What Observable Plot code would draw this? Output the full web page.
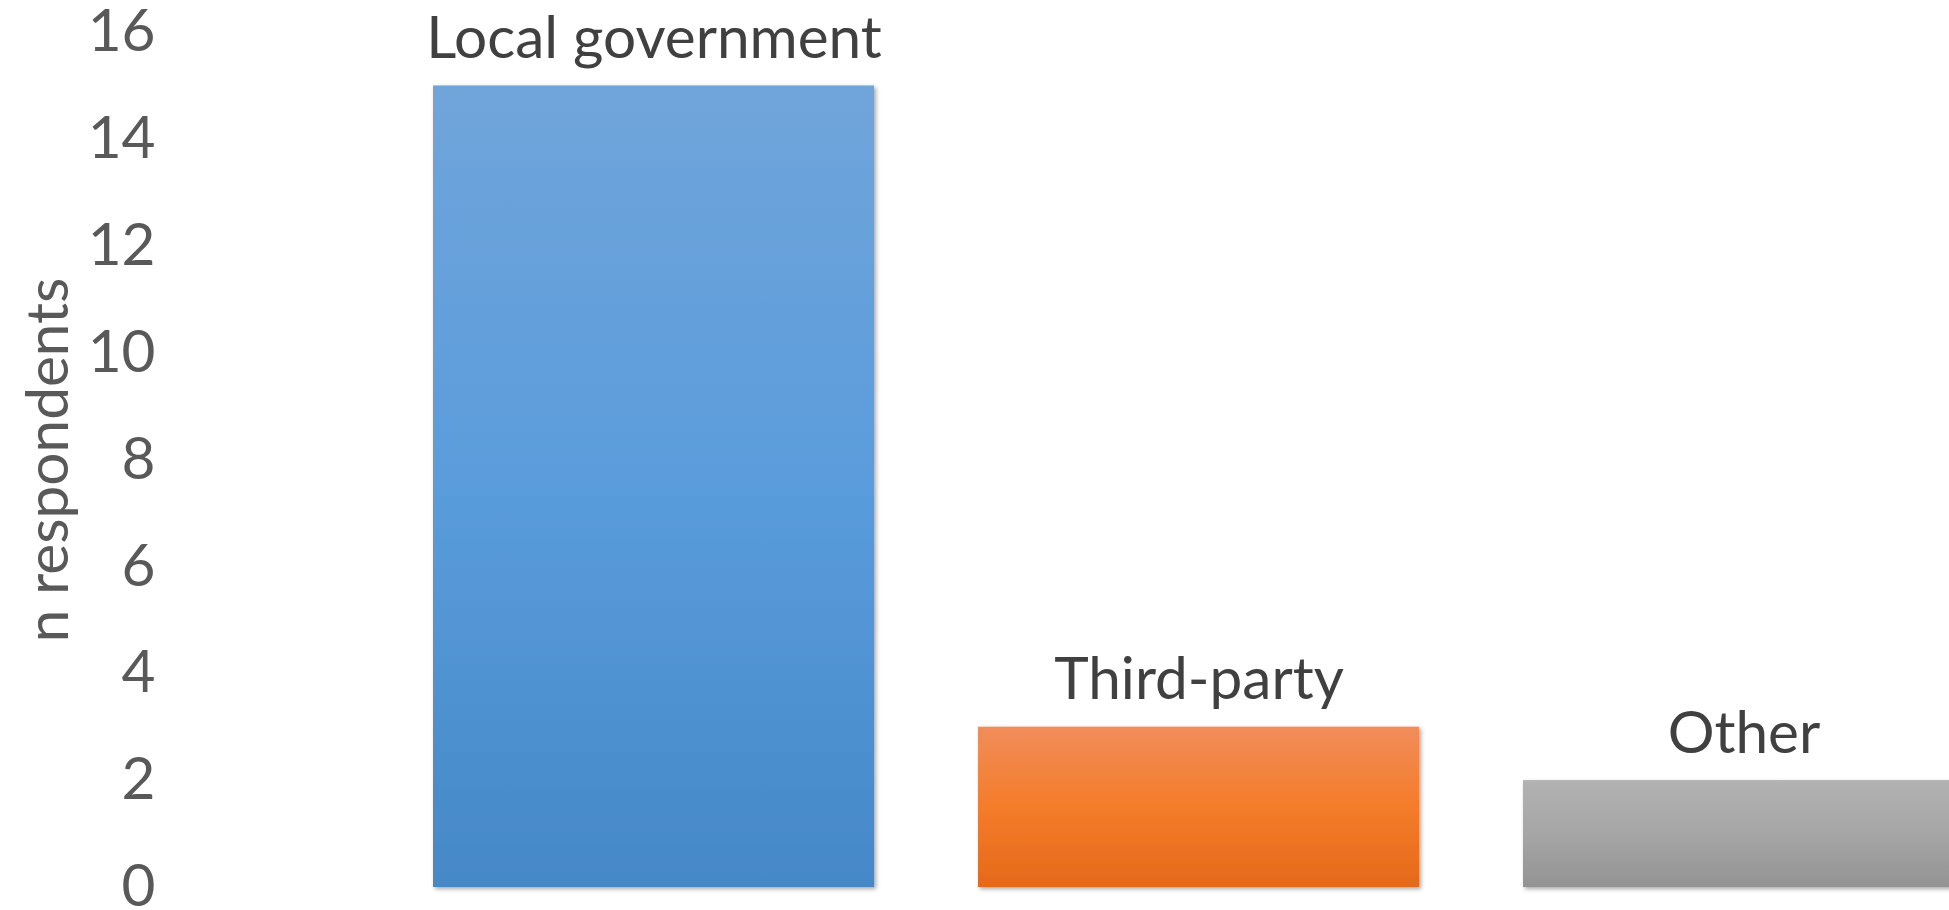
<!DOCTYPE html>
<html>
<head>
<meta charset="utf-8">
<script src="https://cdn.jsdelivr.net/npm/d3@7"></script>
<script src="https://cdn.jsdelivr.net/npm/@observablehq/plot@0.6"></script>
<style>
html, body { margin: 0; padding: 0; overflow: hidden; background: #fff; }
</style>
</head>
<body>
<div id="chart"></div>
<script>
// Data
const categories = ["Local government", "Third-party", "Other"];
const values = [15, 3, 2];
const yTicks = [0, 2, 4, 6, 8, 10, 12, 14, 16];
const yLabel = "n respondents";

// Styles (gradient stops per category)
const gradientStops = [
  ["#70a5da", "#5a9cdc", "#4588c8"],
  ["#f18d5a", "#f47c2a", "#e5691a"],
  ["#b2b2b2", "#a6a6a6", "#939393"]
];

const data = categories.map((c, i) => ({category: c, value: values[i], grad: `url(#grad${i})`}));

const chart = Plot.plot({
  width: 1949,
  height: 910,
  marginTop: 32,
  marginBottom: 23,
  marginLeft: 180,
  marginRight: 0,
  style: {fontFamily: "Lato", fontSize: "58.5px", color: "#595959", background: "#fff", overflow: "hidden"},
  x: {type: "band", domain: categories, range: [433, 1964.5], paddingInner: 0.19, paddingOuter: 0, axis: null},
  y: {domain: [0, 16], ticks: yTicks, label: yLabel},
  marks: [
    Plot.axisY({ticks: yTicks, tickSize: 0, tickPadding: 25, label: yLabel, labelAnchor: "center", labelArrow: "none", labelOffset: 154, fill: "#595959"}),
    ...data.map((d, i) => Plot.barY([d], {x: "category", y: "value", fill: d.grad, inset: 0})),
    Plot.text(data, {x: "category", y: "value", text: "category", dy: -28, lineAnchor: "bottom", fill: "#404040"})
  ]
});

const svg = d3.select(chart);
const defs = svg.insert("defs", ":first-child");
gradientStops.forEach((stops, i) => {
  const g = defs.append("linearGradient").attr("id", `grad${i}`).attr("x1", 0).attr("y1", 0).attr("x2", 0).attr("y2", 1);
  stops.forEach((s, j) => g.append("stop").attr("offset", j / (stops.length - 1)).attr("stop-color", s));
});
const f = defs.append("filter").attr("id", "shadow").attr("x", "-5%").attr("y", "-5%").attr("width", "110%").attr("height", "110%");
f.append("feDropShadow").attr("dx", 2).attr("dy", 2).attr("stdDeviation", 2).attr("flood-color", "#000").attr("flood-opacity", 0.35);
svg.selectAll('g[aria-label="bar"]').attr("filter", "url(#shadow)");

document.getElementById("chart").appendChild(chart);
</script>
</body>
</html>
